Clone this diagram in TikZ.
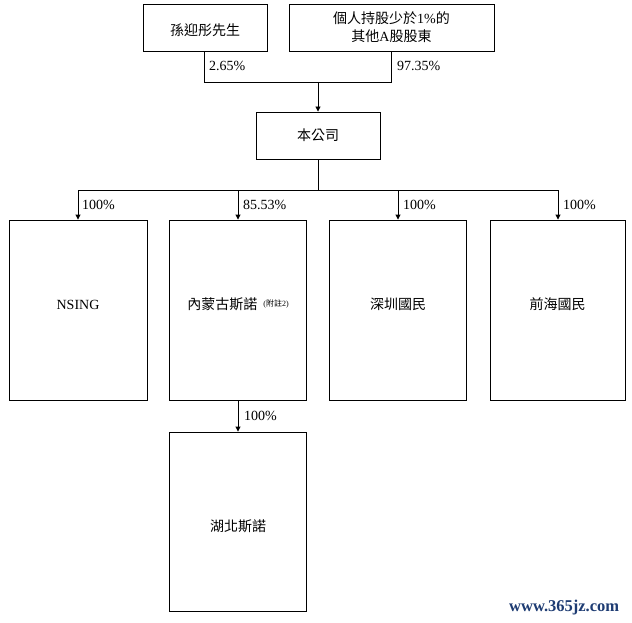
\documentclass[tikz,border=0pt]{standalone}
\usepackage{fontspec}
\setmainfont{Liberation Serif}
\newfontfamily\cjk{Noto Sans CJK TC}
\usetikzlibrary{arrows.meta}
\definecolor{wm}{RGB}{30,60,115}
\begin{document}
\begin{tikzpicture}[x=1pt,y=-1pt,
  box/.style={draw,line width=0.9pt,inner sep=0pt,align=center,
    font=\fontsize{14}{18}\selectfont},
  pct/.style={anchor=west,inner sep=0pt,font=\fontsize{14}{16}\selectfont},
  conn/.style={line width=0.9pt},
  arr/.style={line width=0.9pt,-{Triangle[length=5pt,width=5pt]}},
  up/.style={text height=12pt,text depth=14pt},
  down/.style={text height=22pt,text depth=2pt}]
\useasboundingbox (0,0) rectangle (632,623);
\fill[white] (0,0) rectangle (632,623);
% top row
\node[box,minimum width=124pt,minimum height=47pt,text height=18pt,text depth=1.5pt] (sun) at (205,27.5) {\cjk 孫迎彤先生};
\node[box,minimum width=205pt,minimum height=47pt] (oth) at (391.5,27.5)
  {{\cjk 個人持股少於}1\%{\cjk 的}\\{\cjk 其他}A{\cjk 股股東}};
\coordinate (j) at (318,82);
\node[box,minimum width=124pt,minimum height=47pt] (co) at (318,135.5) {\cjk 本公司};
\draw[conn] (sun.south -| 204,0) -- (204,82) -- (391,82) -- (oth.south -| 391,0);
\draw[arr] (j) -- (co.north);
\node[pct] (l1) at (209,66) {2.65\%};
\node[pct] (l2) at (397,66) {97.35\%};
% subsidiaries
\node[box,up,minimum width=138pt,minimum height=180pt] (ns) at (78,310) {NSING};
\node[box,up,minimum width=137pt,minimum height=180pt] (nm) at (238,310)
  {{\cjk 內蒙古斯諾}\hspace{6pt}\raisebox{3pt}{\fontsize{8}{9}\selectfont(\cjk 附註\normalfont 2)}};
\node[box,up,minimum width=137pt,minimum height=180pt] (sz) at (398,310) {\cjk 深圳國民};
\node[box,up,minimum width=135pt,minimum height=180pt] (qh) at (557.5,310) {\cjk 前海國民};
\coordinate (bus) at (318,190);
\draw[conn] (co.south) -- (bus);
\draw[conn] (78,190) -- (558,190);
\draw[arr] (78,190) -- (ns.north -| 78,0);
\draw[arr] (238,190) -- (nm.north);
\draw[arr] (398,190) -- (sz.north);
\draw[arr] (558,190) -- (qh.north -| 558,0);
\node[pct] (p1) at (82,205) {100\%};
\node[pct] (p2) at (243,205) {85.53\%};
\node[pct] (p3) at (403,205) {100\%};
\node[pct] (p4) at (563,205) {100\%};
% bottom
\node[box,down,minimum width=137pt,minimum height=179pt] (hb) at (238,521.5) {\cjk 湖北斯諾};
\draw[arr] (nm.south) -- (hb.north);
\node[pct] (p5) at (244,416) {100\%};
% watermark
\node[anchor=west,inner sep=0pt,text=wm,font=\bfseries\fontsize{16.5}{18}\selectfont] (wmk) at (509,608) {www.365jz.com};
\end{tikzpicture}
\end{document}
